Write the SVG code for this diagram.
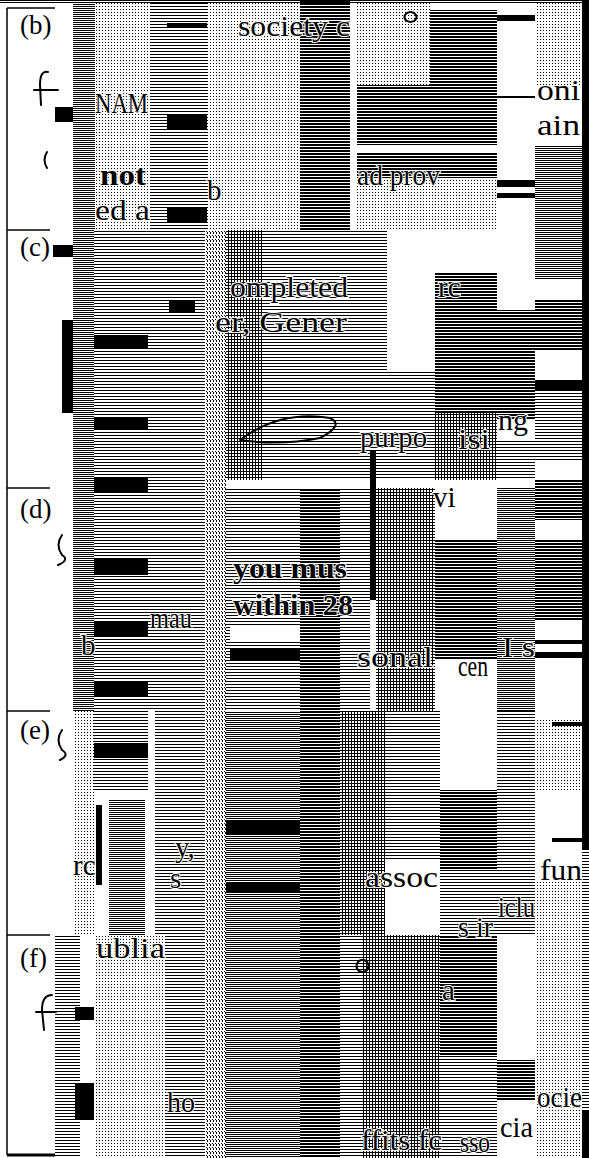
<svg xmlns="http://www.w3.org/2000/svg" width="589" height="1158" viewBox="0 0 589 1158">
<defs>
<pattern id="h3" width="4" height="3" patternUnits="userSpaceOnUse"><rect width="4" height="1" fill="#000"/></pattern>
<pattern id="h2" width="4" height="2" patternUnits="userSpaceOnUse"><rect width="4" height="1" fill="#000"/></pattern>
<pattern id="hd" width="4" height="3" patternUnits="userSpaceOnUse"><rect width="4" height="2" fill="#000"/></pattern>
<pattern id="dt" width="3" height="3" patternUnits="userSpaceOnUse"><rect width="1" height="1" fill="#000"/></pattern>
<pattern id="vd" width="3" height="4" patternUnits="userSpaceOnUse"><rect width="1" height="2" fill="#000"/><rect x="2" y="3" width="1" height="1" fill="#000"/></pattern>
<pattern id="gr" width="3" height="3" patternUnits="userSpaceOnUse"><rect width="3" height="1" fill="#000"/><rect width="1" height="3" fill="#000"/></pattern>
</defs>
<style>
.lbl{font-family:"Liberation Serif","Times New Roman",serif;font-size:27px;fill:#000}
.fr{font-family:"Liberation Serif","Times New Roman",serif;font-size:29px;fill:#000;stroke:#fff;stroke-width:2;paint-order:stroke}
.bd{font-weight:bold}
.hw{fill:none;stroke:#000;stroke-width:2;stroke-linecap:round}
.ln{stroke:#000;stroke-width:1.5;fill:none}
</style>
<rect width="589" height="1158" fill="#fff"/>
<g id="texture">
<!-- section b -->
<rect x="73" y="0" width="22" height="230" fill="url(#h2)"/>
<rect x="95" y="0" width="55" height="230" fill="url(#dt)"/>
<rect x="150" y="0" width="15" height="230" fill="url(#h3)"/>
<rect x="165" y="0" width="42" height="230" fill="url(#h3)"/>
<rect x="167" y="23" width="40" height="5"/>
<rect x="167" y="115" width="40" height="15"/>
<rect x="167" y="207" width="40" height="15"/>
<rect x="207" y="0" width="93" height="230" fill="url(#dt)"/>
<rect x="300" y="0" width="50" height="230" fill="url(#hd)"/>
<rect x="357" y="0" width="73" height="85" fill="url(#dt)"/>
<rect x="430" y="10" width="67" height="75" fill="url(#hd)"/>
<rect x="357" y="85" width="140" height="60" fill="url(#hd)"/>
<rect x="357" y="152" width="140" height="26" fill="url(#hd)"/>
<rect x="357" y="178" width="140" height="52" fill="url(#dt)"/>
<rect x="497" y="15" width="38" height="6"/>
<rect x="497" y="96" width="38" height="2"/>
<rect x="497" y="180" width="38" height="7"/>
<rect x="497" y="193" width="38" height="5"/>
<rect x="535" y="0" width="47" height="85" fill="url(#dt)"/>
<rect x="535" y="145" width="47" height="85" fill="url(#h2)"/>
<rect x="0" y="0" width="589" height="4" fill="url(#h2)"/>
<rect x="55" y="107" width="18" height="15"/>
<!-- sections c-f common columns -->
<rect x="73" y="230" width="21" height="481" fill="url(#h2)"/>
<rect x="94" y="230" width="54" height="481" fill="url(#h3)"/>
<rect x="94" y="335" width="54" height="13"/>
<rect x="94" y="417" width="54" height="13"/>
<rect x="94" y="477" width="54" height="16"/>
<rect x="94" y="559" width="54" height="16"/>
<rect x="94" y="622" width="54" height="15"/>
<rect x="94" y="682" width="54" height="15"/>
<rect x="148" y="230" width="57" height="481" fill="url(#h3)"/>
<rect x="169" y="300" width="26" height="13"/>
<rect x="205" y="230" width="21" height="928" fill="url(#vd)"/>
<rect x="226" y="230" width="37" height="250" fill="url(#gr)"/>
<rect x="263" y="230" width="88" height="250" fill="url(#h3)"/>
<rect x="351" y="230" width="36" height="250" fill="url(#h3)"/>
<rect x="387" y="370" width="48" height="110" fill="url(#h3)"/>
<rect x="435" y="273" width="62" height="140" fill="url(#hd)"/>
<rect x="435" y="413" width="62" height="67" fill="url(#gr)"/>
<rect x="497" y="310" width="38" height="110" fill="url(#hd)"/>
<rect x="497" y="440" width="38" height="40" fill="url(#h3)"/>
<rect x="535" y="200" width="47" height="80" fill="url(#h2)"/>
<rect x="535" y="300" width="47" height="50" fill="url(#hd)"/>
<rect x="535" y="380" width="47" height="10"/>
<rect x="535" y="390" width="47" height="70" fill="url(#h3)"/>
<rect x="535" y="480" width="47" height="40" fill="url(#hd)"/>
<rect x="62" y="320" width="11" height="93"/>
<rect x="53" y="245" width="20" height="12"/>
<!-- section d -->
<rect x="226" y="488" width="74" height="223" fill="url(#h3)"/>
<rect x="230" y="625" width="70" height="16" fill="#fff"/>
<rect x="230" y="648" width="70" height="12"/>
<rect x="300" y="488" width="40" height="670" fill="url(#hd)"/>
<rect x="340" y="488" width="30" height="223" fill="url(#h3)"/>
<rect x="370" y="450" width="6" height="150"/>
<rect x="376" y="488" width="59" height="223" fill="url(#gr)"/>
<rect x="435" y="540" width="62" height="120" fill="url(#hd)"/>
<rect x="497" y="488" width="38" height="223" fill="url(#h2)"/>
<rect x="535" y="540" width="47" height="80" fill="url(#hd)"/>
<rect x="535" y="640" width="47" height="4"/>
<rect x="535" y="652" width="47" height="6"/>
<!-- section e -->
<rect x="73" y="711" width="21" height="224" fill="url(#dt)"/>
<rect x="94" y="711" width="54" height="80" fill="url(#h3)"/>
<rect x="94" y="743" width="54" height="15"/>
<rect x="109" y="800" width="36" height="135" fill="url(#h2)"/>
<rect x="96" y="805" width="6" height="80"/>
<rect x="155" y="711" width="50" height="224" fill="url(#h3)"/>
<rect x="226" y="711" width="74" height="447" fill="url(#h2)"/>
<rect x="226" y="820" width="74" height="15"/>
<rect x="226" y="882" width="74" height="11"/>
<rect x="340" y="711" width="45" height="224" fill="url(#gr)"/>
<rect x="385" y="711" width="55" height="150" fill="url(#h3)"/>
<rect x="440" y="790" width="57" height="80" fill="url(#hd)"/>
<rect x="440" y="870" width="57" height="65" fill="url(#h3)"/>
<rect x="497" y="711" width="38" height="224" fill="url(#h3)"/>
<rect x="535" y="720" width="47" height="70" fill="url(#dt)"/>
<rect x="535" y="880" width="47" height="55" fill="url(#dt)"/>
<rect x="552" y="722" width="30" height="4"/>
<rect x="552" y="838" width="30" height="4"/>
<!-- section f -->
<rect x="55" y="935" width="25" height="223" fill="url(#h3)"/>
<rect x="75" y="1007" width="19" height="13"/>
<rect x="75" y="1083" width="19" height="37"/>
<rect x="94" y="935" width="71" height="223" fill="url(#dt)"/>
<rect x="165" y="935" width="40" height="223" fill="url(#h3)"/>
<rect x="340" y="935" width="22" height="223" fill="url(#h3)"/>
<rect x="362" y="935" width="78" height="223" fill="url(#gr)"/>
<rect x="440" y="935" width="57" height="120" fill="url(#hd)"/>
<rect x="440" y="1055" width="57" height="103" fill="url(#h3)"/>
<rect x="497" y="1060" width="38" height="40" fill="url(#hd)"/>
<rect x="535" y="935" width="47" height="223" fill="url(#dt)"/>
<!-- right edge -->
<rect x="582" y="0" width="7" height="850"/>
<rect x="582" y="850" width="7" height="260" fill="url(#h3)"/>
<rect x="582" y="1110" width="7" height="48"/>
</g>
<g id="form">
<line class="ln" x1="7" y1="8" x2="7" y2="1155"/>
<line class="ln" x1="7" y1="8" x2="55" y2="8"/>
<line class="ln" x1="7" y1="230" x2="50" y2="230"/>
<line class="ln" x1="7" y1="488" x2="50" y2="488"/>
<line class="ln" x1="7" y1="711" x2="50" y2="711"/>
<line class="ln" x1="7" y1="935" x2="50" y2="935"/>
<line x1="7" y1="1155" x2="55" y2="1155" stroke="#000" stroke-width="3"/>
</g>
<g id="sec-b">
<text class="lbl" x="20" y="34">(b)</text>
<text class="fr" x="238" y="36" textLength="112" lengthAdjust="spacingAndGlyphs">society c</text>
<text class="fr" x="95" y="113" font-size="22" textLength="53" lengthAdjust="spacingAndGlyphs">NAM</text>
<text class="fr bd" x="100" y="185" textLength="46" lengthAdjust="spacingAndGlyphs">not</text>
<text class="fr" x="95" y="220" textLength="55" lengthAdjust="spacingAndGlyphs">ed a</text>
<text class="fr" x="207" y="200" font-size="22">b</text>
<text class="fr" x="357" y="185" textLength="83" lengthAdjust="spacingAndGlyphs">ad prov</text>
<text class="fr" x="537" y="100" textLength="43" lengthAdjust="spacingAndGlyphs">oni</text>
<text class="fr" x="537" y="135" textLength="43" lengthAdjust="spacingAndGlyphs">ain</text>
<path class="hw" d="M48 72 Q40 70 40 85 L41 105 M34 90 L58 90"/>
<path class="hw" d="M47 152 Q42 160 47 168"/>
<path class="hw" d="M410 12 a6 5 0 1 0 1 0"/>
</g>
<g id="sec-c">
<text class="lbl" x="20" y="256">(c)</text>
<text class="fr" x="230" y="297" textLength="118" lengthAdjust="spacingAndGlyphs">ompleted</text>
<text class="fr" x="215" y="332" textLength="132" lengthAdjust="spacingAndGlyphs">er, Gener</text>
<text class="fr" x="360" y="447" textLength="67" lengthAdjust="spacingAndGlyphs">purpo</text>
<text class="fr" x="458" y="449" textLength="32" lengthAdjust="spacingAndGlyphs">isi</text>
<text class="fr" x="498" y="430" textLength="30" lengthAdjust="spacingAndGlyphs">ng</text>
<text class="fr" x="438" y="297" font-size="24">rc</text>
<path class="hw" d="M240 440 Q280 410 330 418 Q345 425 320 438 Q280 446 240 440"/>
</g>
<g id="sec-d">
<text class="lbl" x="20" y="518">(d)</text>
<text class="fr bd" x="233" y="578" textLength="114" lengthAdjust="spacingAndGlyphs">you mus</text>
<text class="fr bd" x="233" y="615" textLength="120" lengthAdjust="spacingAndGlyphs">within 28</text>
<text class="fr" x="150" y="628" font-size="24" textLength="42" lengthAdjust="spacingAndGlyphs">mau</text>
<text class="fr" x="357" y="667" textLength="76" lengthAdjust="spacingAndGlyphs">sonal</text>
<text class="fr" x="458" y="676" font-size="24" textLength="30" lengthAdjust="spacingAndGlyphs">cen</text>
<text class="fr" x="502" y="657" textLength="33" lengthAdjust="spacingAndGlyphs">I s</text>
<text class="fr" x="433" y="507" font-size="24">vi</text>
<text class="fr" x="81" y="655" font-size="22">b</text>
<path class="hw" d="M62 535 Q55 545 62 555 Q70 560 58 565"/>
</g>
<g id="sec-e">
<text class="lbl" x="20" y="739">(e)</text>
<text class="fr" x="365" y="887" textLength="73" lengthAdjust="spacingAndGlyphs">assoc</text>
<text class="fr" x="540" y="880" textLength="42" lengthAdjust="spacingAndGlyphs">fun</text>
<text class="fr" x="498" y="917" textLength="37" lengthAdjust="spacingAndGlyphs">iclu</text>
<text class="fr" x="458" y="937" textLength="35" lengthAdjust="spacingAndGlyphs">s ir</text>
<text class="fr" x="175" y="857" font-size="24">y,</text>
<text class="fr" x="170" y="888" font-size="24">s</text>
<text class="fr" x="73" y="875" font-size="20">rc</text>
<path class="hw" d="M62 730 Q55 740 62 750 Q70 755 60 760"/>
</g>
<g id="sec-f">
<text class="lbl" x="20" y="967">(f)</text>
<text class="fr" x="96" y="958" font-size="24" textLength="69" lengthAdjust="spacingAndGlyphs">ublia</text>
<text class="fr" x="167" y="1112" textLength="28" lengthAdjust="spacingAndGlyphs">ho</text>
<text class="fr" x="361" y="1150" textLength="81" lengthAdjust="spacingAndGlyphs">ffits fc</text>
<text class="fr" x="460" y="1152" font-size="24" textLength="30" lengthAdjust="spacingAndGlyphs">sso</text>
<text class="fr" x="500" y="1137" textLength="33" lengthAdjust="spacingAndGlyphs">cia</text>
<text class="fr" x="537" y="1107" textLength="45" lengthAdjust="spacingAndGlyphs">ocie</text>
<text class="fr" x="442" y="1000" font-size="24">a</text>
<path class="hw" d="M52 995 Q42 995 42 1010 L44 1030 M36 1012 L56 1012"/>
<path class="hw" d="M362 960 a6 6 0 1 0 1 0"/>
</g>
</svg>
